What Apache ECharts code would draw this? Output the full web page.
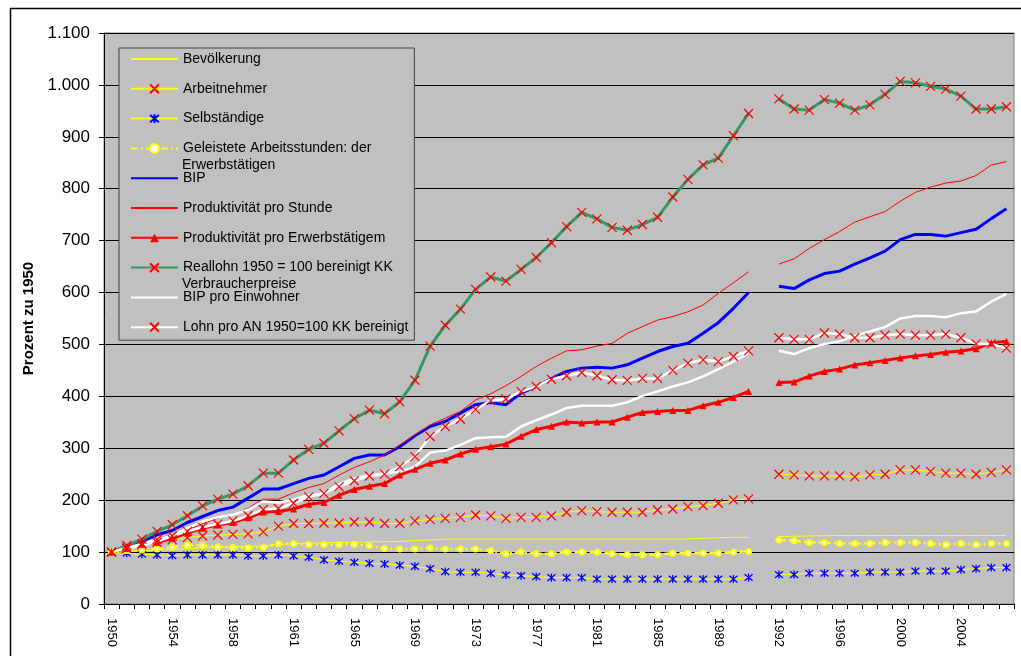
<!DOCTYPE html>
<html><head><meta charset="utf-8">
<script src="https://cdn.jsdelivr.net/npm/echarts@6/dist/echarts.min.js"></script>
<style>html,body{margin:0;padding:0;background:#fff}#c{width:1021px;height:656px}</style>
</head><body><div id="c"></div>
<script>
const categories = ['1950','1951','1952','1953','1954','1955','1956','1957','1958','1959','1960','1960',
 '1961','1962','1963','1964','1965','1966','1967','1968','1969','1970','1971','1972','1973','1974','1975','1976','1977','1978','1979','1980',
 '1981','1982','1983','1984','1985','1986','1987','1988','1989','1990','1991','',
 '1992','1993','1994','1995','1996','1997','1998','1999','2000','2001','2002','2003','2004','2005','2006','2007'];
const yTickLabels = ['0','100','200','300','400','500','600','700','800','900','1.000','1.100'];

const bevoelkerung = [100,101.5,103,104,105,106.5,108,109,110,111,112,115,116,
 117,118,118.5,119,119.5,120,120.5,122,123.5,125,
 125,125,125,125,125,125,125,125,125,125,125,125,125,125,125,
 125.5,126.5,127.5,128.5,128.5, null,
 130,130.5,131,131.5,132,132,132,132,132,132,132,132,132,132,132,132];
const arbeitnehmer = [100,107,113,119,124,128,131,133,134,135,139,150,155,
 155,156,156,158,158,155,155.5,160,163,165,167,171.5,
 169.8,165,167,167,169.8,176.8,180,178,176.8,176.8,176.8,181,183,187.7,189.6,194,200.5,202.4, null,
 250,248.8,246.8,246.8,246.8,244.8,248.8,250,258.3,258.3,255.6,252,252,250,253.5,258.3];
const selbstaendige = [100,97.7,95.8,94.5,93.2,94.5,94.5,94.5,94.5,92.6,92.6,94.5,92.6,90,84.9,82.3,80.4,78.4,77.1,74.6,72.6,
 68.1,62.4,61.1,61.1,59.1,55.9,54.6,52.7,50.8,50.8,50.8,
 48,48,48,48,48,48,48,48,48,48,51, null,
 56.7,56.7,59.3,59.3,59.3,59.3,61.4,61.4,61.4,63.4,63.4,63.4,66.1,68.1,70.1,70.1];
const arbeitsstunden = [100,103,104,106,109,113,113,110,109,108,109,116,116,114.4,114.4,114.4,114.4,112,107,106,106,
 107.7,105.8,105.8,105.8,103,96.8,100,96.8,96.8,100,100,100,96.8,94.9,94.9,94.9,98,98,98,98,100,101.3, null,
 123.4,122,118.7,118.7,116.7,116.7,116.7,118.7,118.7,118.7,116.7,114,116.7,114,116.7,116.7];
const bip = [100,110.9,120.4,133.3,141.6,157,168.6,180,186.6,204,221.5,221.5,232,
 242,248.4,264.5,280.6,287,287,303,324,342,351.6,367.7,384,388,384,406.4,419,434,448,454.4,456.3,454.4,460.8,473.6,486.4,496,502.4,521.6,542,569.6,600, null,
 612.3,607.6,624.4,636.5,641.3,654.8,667,679.7,702,712,712,708.7,715.4,722,742.4,761.3];
const prodStunde = [100,107.6,114,120.4,130,143,154.5,165.4,172,184.6,202,202,214,
 224.5,232,248.4,263,274,287,306.5,326,345,358,371,393,405,420.5,438.4,457.6,473.6,487.7,489.6,497,502,521.6,534.4,547,553.6,563,576,598.4,618.9,640, null,
 654.8,665,685,702,717.5,735.7,746,756,776,793,803,811,815,825.4,845.6,852.3];
const prodErw = [100,107,115,119,126,137,146,152,157,166,177,178,183,
 192.3,195.5,209.7,220.6,227,232,248.4,259.4,271,277.4,289,298,303,308,323,336,342.4,350.7,348.8,350.7,350.7,360,369,371,373,373,382,388.5,398,409.6, null,
 426.8,427.5,439,447.8,452.5,460.6,464.6,469.3,474,478,480.8,484.8,487.5,491.6,503,506.4];
const reallohn = [100,112.7,125,140,152.6,170,189,202,211.7,227.8,252,252,277.5,
 298,309.7,333.5,357,373.5,366.5,389.7,431,496.8,537,568,606,630,622,644.5,667.5,696,727,754.5,742,725.5,720,731,745,784,818,846,859,902,945, null,
 973,953.5,951.4,971.7,965,951.4,961.6,981.8,1006.7,1004,997.3,992,978.4,953.5,953.5,958];
const bipProEinwohner = [100,107.6,112,120.4,131,146,159,167.3,172,181.5,197.6,195.6,201,
 210,213,231,242,248,251.6,255,264.5,291.6,295.5,306.5,319.4,321,322,342,354,365,377.6,382,382,382,388.5,401,409.6,419,427,438.4,452.5,467,483, null,
 488,481.5,493,501,506,516.5,525,533.4,550.2,555,555,552.3,560.3,563.7,582.6,597.4];
const lohnProAN = [100,108,116,124,131,140,148,154,160,170,182,184,194,
 206.5,213,226,237.4,246.5,250.3,264.5,284,322.6,342,356,375,391.7,395,409,419,433,439.7,446,439.7,432,430.7,434.6,434.6,450,464,470.4,467,476.8,487.7, null,
 513,509.8,509.8,522,520,513,513,517.9,520,517.9,518,520,513,501,501,493];

const seriesNames = ['Bevölkerung','Arbeitnehmer','Selbständige','Geleistete Arbeitsstunden: der Erwerbstätigen','BIP',
 'Produktivität pro Stunde','Produktivität pro Erwerbstätigem','Reallohn 1950 = 100 bereinigt KK Verbraucherpreise',
 'BIP pro Einwohner','Lohn pro AN 1950=100 KK bereinigt'];
// first line shown in the legend row, second line drawn underneath
const legendFirstLine = {
  'Geleistete Arbeitsstunden: der Erwerbstätigen': 'Geleistete Arbeitsstunden: der',
  'Reallohn 1950 = 100 bereinigt KK Verbraucherpreise': 'Reallohn 1950 = 100 bereinigt KK'
};
const legendSecondLine = [
  { index: 3, text: 'Erwerbstätigen' },
  { index: 7, text: 'Verbraucherpreise' }
];

const FONT = '"Liberation Sans", Arial, sans-serif';
const X_SYM = 'path://M0,0L10,10M10,0L0,10';
const AST_SYM = 'path://M0,0L10,10M10,0L0,10M5,-1L5,11';
const YEL = '#ffff00', RED = '#ff0000', BLUE = '#0000ff', GREEN = '#339966', WHITE = '#ffffff';

function line(name, data, color, width, extra) {
  return Object.assign({
    name, type: 'line', data, connectNulls: false, showAllSymbol: true,
    symbol: 'none', lineStyle: { color, width }, itemStyle: { color },
    emphasis: { disabled: true }, animation: false
  }, extra || {});
}
const xMarker = (c) => ({ symbol: X_SYM, symbolSize: 9, itemStyle: { color: c, borderColor: c, borderWidth: 1.2 } });

const series = [
  line(seriesNames[0], bevoelkerung, YEL, 1),
  line(seriesNames[1], arbeitnehmer, YEL, 1, xMarker(RED)),
  line(seriesNames[2], selbstaendige, YEL, 1, { symbol: AST_SYM, symbolSize: 8, itemStyle: { color: BLUE, borderColor: BLUE, borderWidth: 1.3 } }),
  line(seriesNames[3], arbeitsstunden, YEL, 1, { lineStyle: { color: YEL, width: 2.5, type: [7, 3, 2, 3] }, symbol: 'emptyCircle', symbolSize: 5, itemStyle: { color: YEL, borderColor: YEL, borderWidth: 1 } }),
  line(seriesNames[4], bip, BLUE, 3),
  line(seriesNames[5], prodStunde, RED, 1),
  line(seriesNames[6], prodErw, RED, 3, { symbol: 'triangle', symbolSize: 7, itemStyle: { color: RED } }),
  line(seriesNames[7], reallohn, GREEN, 3, xMarker(RED)),
  line(seriesNames[8], bipProEinwohner, WHITE, 2.5),
  line(seriesNames[9], lohnProAN, WHITE, 2.5, xMarker(RED))
];
const noMarker = [0, 4, 5, 8];
const legendData = seriesNames.map((n, i) => noMarker.includes(i) ? { name: n, itemStyle: { opacity: 0 } } : { name: n });

// legend geometry
const LEG_LEFT = 119, LEG_TOP = 48, LEG_PAD = [3, 6, 5, 11], ICON_W = 47, ICON_H = 11, TXT_LH = 16, GAP = 13.8;
const rowCenter = (k) => LEG_TOP + LEG_PAD[0] + TXT_LH / 2 + k * (TXT_LH + GAP);
const textX = LEG_LEFT + LEG_PAD[3] + ICON_W + 5;

const chart = echarts.init(document.getElementById('c'), null, { renderer: 'canvas' });
chart.setOption({
  animation: false,
  backgroundColor: '#ffffff',
  textStyle: { fontFamily: FONT },
  graphic: [
    { type: 'rect', shape: { x: 10.5, y: 8.5, width: 1100, height: 1000 }, style: { fill: null, stroke: '#000', lineWidth: 1.5 }, z: -10, silent: true }
  ].concat(legendSecondLine.map(s => ({
    type: 'text', z: 100, silent: true,
    style: { text: s.text, x: textX, y: rowCenter(s.index) + 17, fill: '#000', fontSize: 14, fontFamily: FONT, verticalAlign: 'middle', align: 'left' }
  }))),
  grid: { left: 104, right: 7, top: 33, bottom: 52, show: true, backgroundColor: '#c0c0c0', borderColor: '#808080', borderWidth: 1 },
  legend: {
    data: legendData, orient: 'vertical', left: LEG_LEFT, top: LEG_TOP, itemWidth: ICON_W, itemHeight: ICON_H, itemGap: GAP,
    padding: LEG_PAD, backgroundColor: '#c0c0c0', borderColor: '#404040', borderWidth: 1,
    selectedMode: false,
    formatter: (n) => legendFirstLine[n] || n,
    textStyle: { fontFamily: FONT, fontSize: 14, color: '#000', lineHeight: TXT_LH }
  },
  xAxis: {
    type: 'category', data: categories, boundaryGap: true,
    axisLine: { lineStyle: { color: '#000', width: 1 } },
    axisTick: { show: true, interval: 0, length: 5, lineStyle: { color: '#000' } },
    axisLabel: { interval: 3, rotate: -90, margin: 14, fontSize: 13, color: '#000', fontFamily: FONT },
    splitLine: { show: false }
  },
  yAxis: {
    type: 'value', min: 0, max: 1100, interval: 100,
    name: 'Prozent zu 1950', nameLocation: 'middle', nameGap: 66,
    nameTextStyle: { fontWeight: 'bold', fontSize: 15, color: '#000', fontFamily: FONT },
    axisLine: { show: true, lineStyle: { color: '#000', width: 1 } },
    axisTick: { show: true, length: 5, lineStyle: { color: '#000' } },
    axisLabel: { fontSize: 17, color: '#000', margin: 14, fontFamily: FONT, formatter: (v) => yTickLabels[Math.round(v / 100)] },
    splitLine: { show: true, lineStyle: { color: '#000', width: 1 } }
  },
  series
});
</script></body></html>
